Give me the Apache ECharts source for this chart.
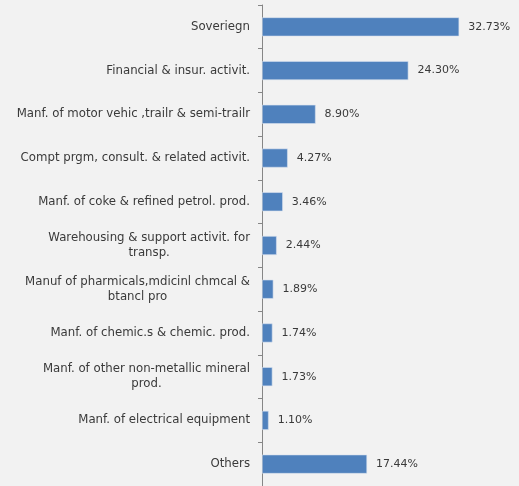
<!DOCTYPE html>
<html><head><meta charset="utf-8">
<script src="https://cdn.jsdelivr.net/npm/echarts@6/dist/echarts.min.js"></script>
<style>html,body{margin:0;padding:0;background:#f2f2f2}#c{width:519px;height:486px}</style>
</head><body><div id="c"></div>
<script>
const categories = [
  "Soveriegn",
  "Financial & insur. activit.",
  "Manf. of motor vehic ,trailr & semi-trailr",
  "Compt prgm, consult. & related activit.",
  "Manf. of coke & refined petrol. prod.",
  "Warehousing & support activit. for\ntransp.",
  "Manuf of pharmicals,mdicinl chmcal &\nbtancl pro",
  "Manf. of chemic.s & chemic. prod.",
  "Manf. of other non-metallic mineral\nprod.",
  "Manf. of electrical equipment",
  "Others"
];
const values = [32.73, 24.30, 8.90, 4.27, 3.46, 2.44, 1.89, 1.74, 1.73, 1.10, 17.44];

const FONT = "'DejaVu Sans', sans-serif";
const chart = echarts.init(document.getElementById('c'));
chart.setOption({
  backgroundColor: '#f2f2f2',
  animation: false,
  grid: { left: 262, right: 16, top: 5, bottom: -5, containLabel: false },
  xAxis: { type: 'value', min: 0, max: 40, show: false },
  yAxis: {
    type: 'category', inverse: true, data: categories,
    axisLine: { show: true, lineStyle: { color: '#868686', width: 1 } },
    axisTick: { show: true, length: 4, lineStyle: { color: '#868686' } },
    splitLine: { show: false },
    axisLabel: {
      margin: 12, color: '#3a3a3a', fontFamily: FONT, fontSize: 11.75, lineHeight: 15,
      align: 'right',
      formatter: function (v) { return v.split('\n').map(function (l) { return '{c|' + l + '}'; }).join('\n'); },
      rich: { c: { align: 'center', color: '#3a3a3a', fontFamily: FONT, fontSize: 11.75, lineHeight: 15 } }
    }
  },
  series: [{
    type: 'bar', data: values, barWidth: 19,
    itemStyle: { color: '#4f81bd', borderColor: '#d6e0ee', borderWidth: 0.6 },
    label: {
      show: true, position: 'right', distance: 9, color: '#3a3a3a',
      fontFamily: FONT, fontSize: 11,
      formatter: function (p) { return p.value.toFixed(2) + '%'; }
    }
  }]
});
</script>
</body></html>
